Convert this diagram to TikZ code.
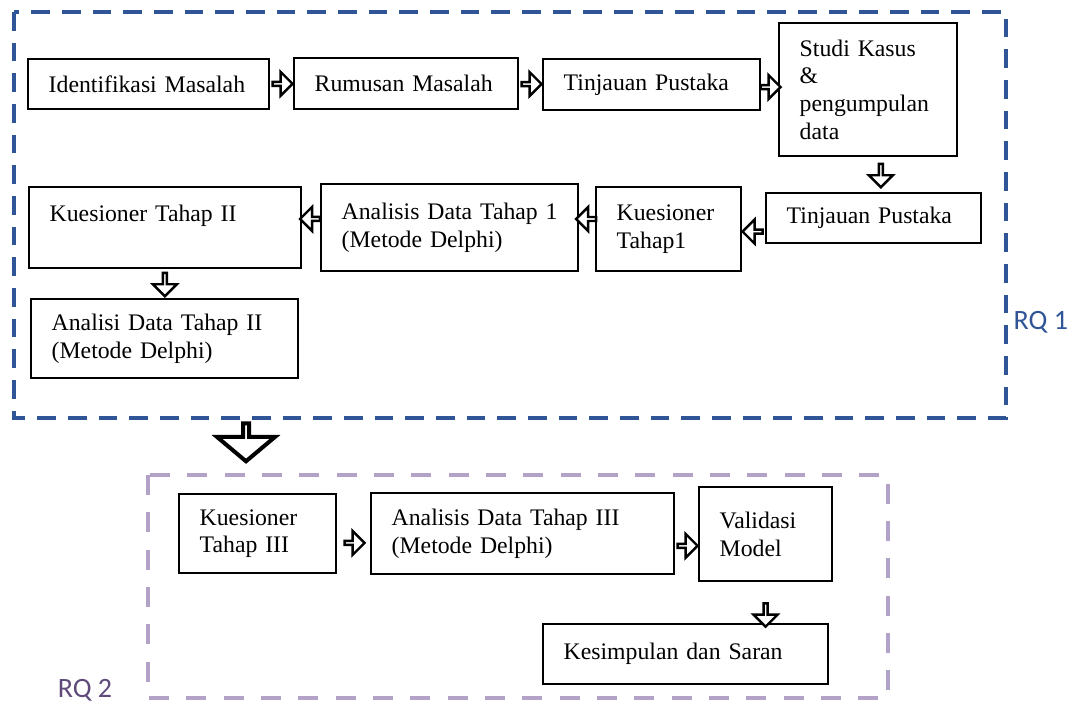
\documentclass[tikz,border=0pt]{standalone}
\usepackage{fontspec}
\setmainfont{Liberation Serif}
\newfontfamily\rqfont{Carlito}
\usepackage{tikz}
\usetikzlibrary{shapes.arrows,positioning,calc}
\definecolor{rqblue}{HTML}{2F5597}
\definecolor{rqlilac}{HTML}{B3A2C7}
\definecolor{rqpurple}{HTML}{604A7B}

\begin{document}
\begin{tikzpicture}[
  x=0.75pt, y=-0.75pt,
  stage/.style={draw, line width=1.6pt, anchor=north west, align=left, inner xsep=15.5pt, inner ysep=0pt, font=\fontsize{17.8}{20.8}\selectfont},
  flow/.style={draw, line width=1.8pt, fill=white, single arrow, single arrow head extend=4.5pt, minimum width=18pt, minimum height=15pt, inner sep=0pt},
  flowleft/.style={flow, shape border rotate=180},
  flowdown/.style={flow, shape border rotate=270, minimum height=17.5pt},
  bigflow/.style={draw, line width=3pt, fill=white, single arrow, shape border rotate=270, single arrow head extend=13pt, single arrow tip angle=100, minimum width=43.5pt, minimum height=28.5pt, inner sep=0pt},
  frame/.style={line width=3pt},
  rq/.style={font=\rqfont\fontsize{21}{24}\selectfont}
]
\useasboundingbox (0,0) rectangle (1069,704);

\draw[frame, rqblue, dash pattern=on 14pt off 9pt] (14,12) rectangle (1006,418);
\draw[frame, rqlilac, dash pattern=on 15pt off 13pt] (148,475) rectangle (888,698);
\node[rq, text=rqblue, anchor=west] (rq1) at (1009,322) {RQ 1};
\node[rq, text=rqpurple] (rq2) at (85,690) {RQ 2};

\node[stage, text width=149.75pt, minimum height=37.5pt] (ident) at (27,58) {Identifikasi Masalah};
\node[stage, text width=137pt, minimum height=38.25pt] (rumus) at (293,57) {Rumusan Masalah};
\node[stage, text width=131.75pt, minimum height=38.25pt] (tinja) at (542,58) {Tinjauan Pustaka};
\node[stage, text width=102.5pt, minimum height=99.75pt] (studi) at (778,22) {Studi Kasus\\\&\\pengumpulan\\data};
\node[stage, text width=130.25pt, minimum height=37.5pt] (tinjb) at (765,192) {Tinjauan Pustaka};
\node[stage, text width=77.75pt, minimum height=63pt] (kues1) at (595,186) {Kuesioner\\Tahap1};
\node[stage, text width=161.75pt, minimum height=65.25pt] (anal1) at (320,183) {\mbox{Analisis Data Tahap 1}\\(Metode Delphi)};
\node[stage, text width=173pt, minimum height=60.75pt] (kues2) at (28,186) {Kuesioner Tahap II\\\mbox{}};
\node[stage, text width=169.25pt, minimum height=59.25pt] (anal2) at (30,298) {Analisi Data Tahap II\\(Metode Delphi)};

\node[stage, text width=86.75pt, minimum height=59.25pt] (kues3) at (178,493) {Kuesioner\\Tahap III};
\node[stage, text width=196.25pt, minimum height=60.75pt] (anal3) at (370,492) {Analisis Data Tahap III\\(Metode Delphi)};
\node[stage, text width=68.75pt, minimum height=70.5pt] (valid) at (698,486) {Validasi\\Model};
\node[stage, text width=182.75pt, minimum height=45pt] (simpul) at (542,623) {Kesimpulan dan Saran};

\node[flow] (f1) at ($(ident.east)!.5!(rumus.west)$) {};
\node[flow] (f2) at ($(rumus.east)!.5!(tinja.west)$) {};
\node[flow] (f3) at ($(tinja.east)!.5!(studi.west)$) {};
\node[flowdown, xshift=7.5pt] (f4) at ($(studi.south)!.5!(tinjb.north)$) {};
\node[flowleft, yshift=-6pt] (f5) at ($(kues1.east)!.5!(tinjb.west)$) {};
\node[flowleft, yshift=7pt] (f6) at ($(anal1.east)!.5!(kues1.west)$) {};
\node[flowleft, yshift=6.5pt] (f7) at ($(kues2.east)!.5!(anal1.west)$) {};
\node[flowdown] (f8) at ($(kues2.south)!.5!(anal2.north)$) {};

\node[bigflow] (next) at (246,441) {};

\node[flow, yshift=-7pt] (f9) at ($(kues3.east)!.5!(anal3.west)$) {};
\node[flow, yshift=-9pt] (f10) at ($(anal3.east)!.5!(valid.west)$) {};
\node[flowdown, anchor=tip, yshift=-4pt] (f11) at (valid.south |- simpul.north) {};
\end{tikzpicture}
\end{document}
